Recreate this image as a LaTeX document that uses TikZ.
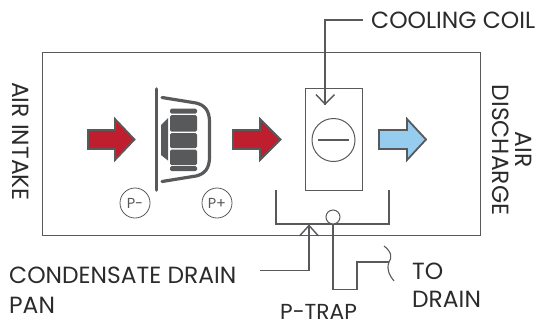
\documentclass[tikz,border=0pt]{standalone}
\usepackage{fontspec}
\setmainfont{Poppins}
\definecolor{ink}{HTML}{58595B}
\definecolor{txt}{HTML}{2B2B2D}
\definecolor{redf}{HTML}{BE1E2D}
\definecolor{bluef}{HTML}{96CDEE}
\tikzset{
 x=1pt,y=-1pt,
 lab/.style={text=txt,font=\fontsize{23.4}{26}\selectfont,inner sep=0pt},
 labn/.style={text=txt,font=\fontsize{21.7}{26}\selectfont,inner sep=0pt},
 thin line/.style={draw=ink,line width=1.1pt},
 leader/.style={draw=ink,line width=1.4pt},
 flow/.style={draw=ink,line width=1.8pt,miter limit=10},
 small/.style={circle,draw=ink,line width=.8pt,minimum size=30pt,inner sep=0pt,text=ink,font=\fontsize{14.5}{14.5}\selectfont},
 tagbox/.style={thin line,inner sep=0pt},
 blade/.style={fill=ink,rounded corners=1.5pt},
 sym/.style={circle,draw=ink,line width=1pt,inner sep=0pt}
}
\begin{document}
\begin{tikzpicture}
\useasboundingbox (0,0) rectangle (535,325);
% cabinet
\node[tagbox,minimum width=438pt,minimum height=183.5pt,anchor=north west] (cab) at (42,51.5) {};
% arrows
\draw[flow,fill=redf] (88,130) -- (115,130) -- (115,119) -- (134.5,139.5) -- (115,160) -- (115,149) -- (88,149) -- cycle;
\draw[flow,fill=redf] (233,130) -- (260,130) -- (260,119) -- (280.5,139.5) -- (260,160) -- (260,149) -- (233,149) -- cycle;
\draw[flow,fill=bluef] (379,130) -- (407,130) -- (407,119) -- (426,139.5) -- (407,160) -- (407,149) -- (379,149) -- cycle;
% fan
\draw[ink,line width=3.6pt,line cap=round] (156.5,89) -- (156.5,190);
\draw[ink,line width=3.2pt,line cap=round] (162,97.5) -- (196,103) .. controls (205,105) and (209.5,111) .. (209.5,122) -- (209.5,157) .. controls (209.5,168) and (205,174) .. (196,176) -- (162,181.5);
\fill[blade] (170,108.5) rectangle (197,113.5);
\fill[blade] (170,115) rectangle (197,131.5);
\fill[blade] (170,133) rectangle (197,148);
\fill[blade] (170,149.5) rectangle (197,165);
\fill[blade] (170,166) rectangle (197,171);
\fill[ink] (161,125) -- (168,118) -- (168,160.5) -- (161,155) -- cycle;
\node[small] (pm) at (135,203) {P-};
\node[small] (pp) at (217,203) {P+};
% coil
\node[tagbox,minimum width=57pt,minimum height=102pt,anchor=north west] (coil) at (305,88) {};
\node[sym,minimum size=43pt] (cc) at (333.5,140) {};
\draw[ink,line width=1.1pt] (318,140) -- (348.5,140);
\coordinate (cl) at (363,20);
\coordinate (ct) at (325,105);
\draw[leader] (cl) -- (325,20) -- (ct);
\draw[leader] (316,94.5) -- (325,104) -- (334.5,94.5);
% pan
\draw[thin line] (276,190) -- (276,224) -- (389,224) -- (389,190);
\node[sym,minimum size=14pt,fill=white] (trap) at (333,217) {};
\coordinate (dr) at (389,262);
\draw[thin line] (trap.south) -- (333,289.5) -- (357,289.5) -- (357,262) -- (dr);
\draw[thin line] (384,246) .. controls (392,252) and (392,258) .. (389,262) .. controls (386,270) and (390,276) .. (394,281);
\coordinate (cs) at (260,270.5);
\coordinate (ca) at (309,225);
\draw[leader] (cs) -- (309,270.5) -- (ca);
\draw[leader] (299.5,236) -- (309,225.5) -- (318.5,236);
% labels
\node[lab,anchor=west] (t1) at (371,20.5) {COOLING COIL};
\node[lab,anchor=west] (t2) at (9,275) {CONDENSATE DRAIN};
\node[lab,anchor=west] (t3) at (9,305) {PAN};
\node[labn,anchor=west] (t4) at (280,311.5) {P-TRAP};
\node[lab,anchor=west] (t5) at (412,271) {TO};
\node[lab,anchor=west] (t6) at (412,299) {DRAIN};
\node[lab,rotate=-90] (t7) at (20.5,141.5) {AIR INTAKE};
\node[lab,rotate=-90] (t8) at (524,149.5) {AIR};
\node[lab,rotate=-90] (t9) at (500.5,150) {DISCHARGE};
\end{tikzpicture}
\end{document}
